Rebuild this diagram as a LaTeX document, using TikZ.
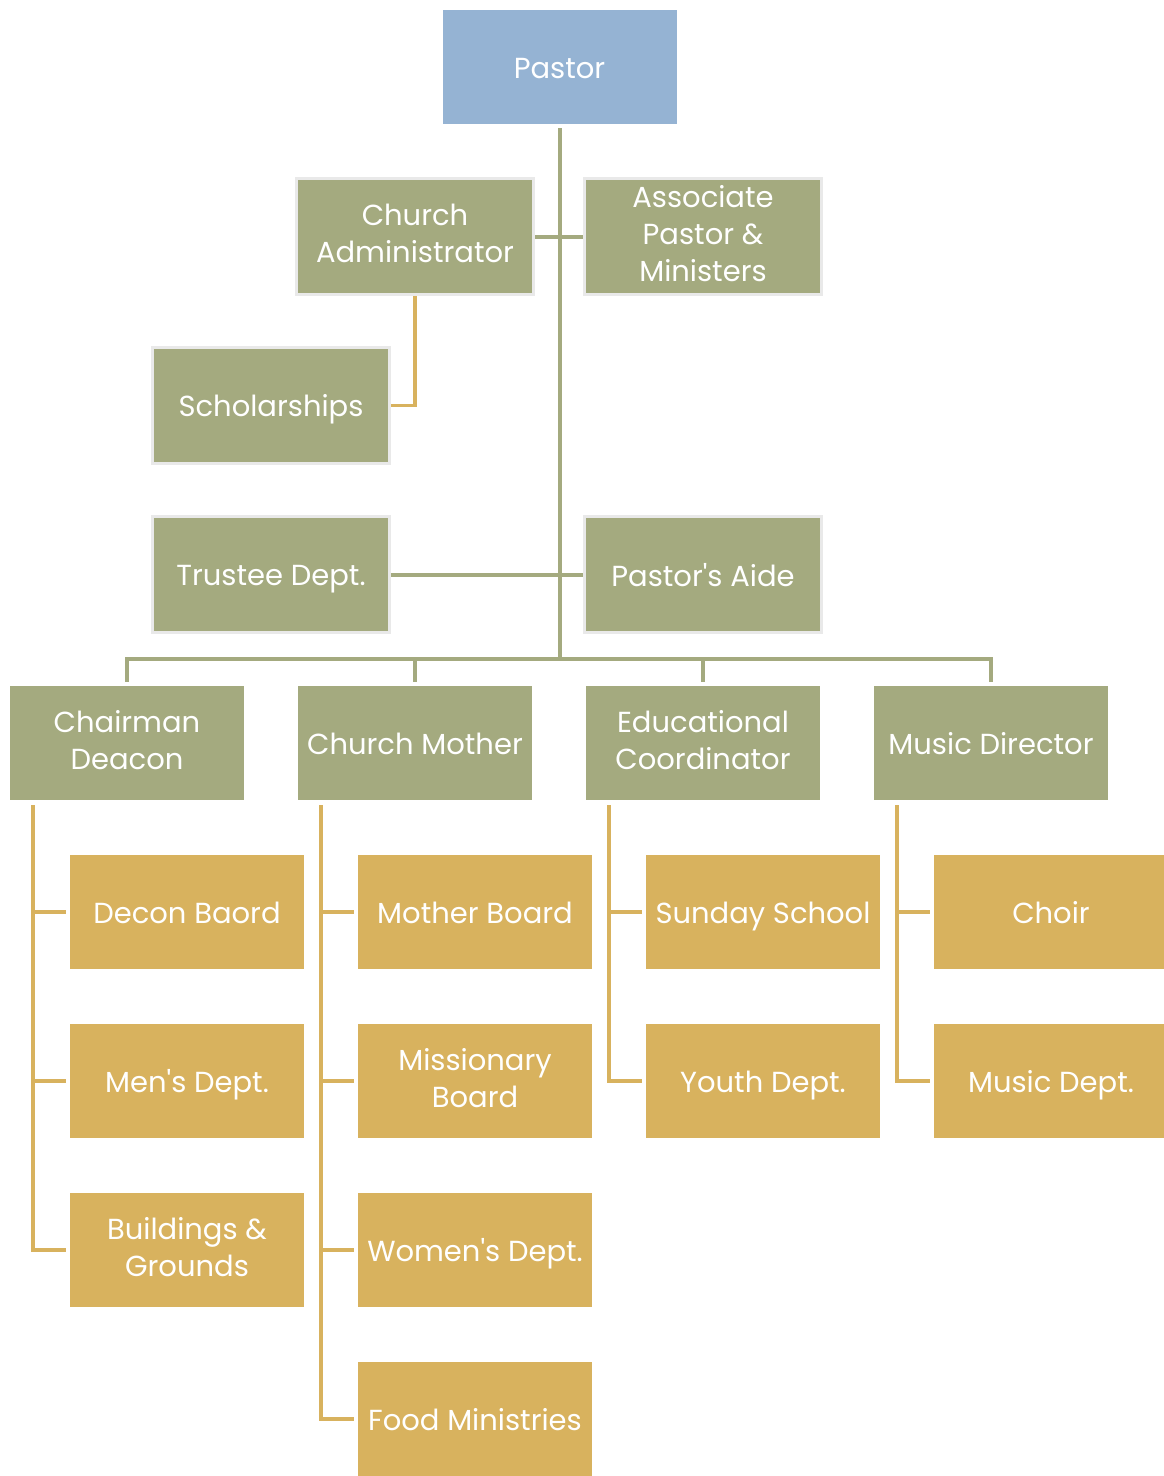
\documentclass[tikz,border=0pt]{standalone}
\usepackage{fontspec}
\setmainfont{Poppins}
\usetikzlibrary{positioning}
\definecolor{pblue}{HTML}{95B3D3}
\definecolor{pgreen}{HTML}{A4AA7F}
\definecolor{pgold}{HTML}{D8B25E}
\definecolor{pframe}{HTML}{E9E9E9}
\newcommand{\bstrut}{\rule[-7pt]{0pt}{37pt}}
\tikzset{
    box/.style = {rectangle, text=white, align=center, inner sep=1pt, outer sep=0pt,
                  minimum width=234pt, minimum height=114pt,
                  font=\fontsize{29}{37}\selectfont,
                  execute at begin node=\bstrut, execute at end node=\bstrut},
    mynodeb/.style = {box, fill=pblue},
    mynodeg/.style = {box, fill=pgreen},
    mynodef/.style = {box, fill=pgreen, draw=pframe, line width=3pt,
                      minimum width=237pt, minimum height=116pt, outer sep=1.5pt},
    mynodey/.style = {box, fill=pgold},
    edgeg/.style = {line width=4pt, draw=pgreen},
    edgey/.style = {line width=3.5pt, draw=pgold},
    drop/.style = {shorten >=4pt}
}
\newcommand{\apos}{\textquotesingle}
\begin{document}
\begin{tikzpicture}[x=1pt,y=-1pt]
\useasboundingbox (0,0) rectangle (1164,1476);
%
\node[mynodeb] at (559.5,67) (p) {Pastor};
\node[mynodef] at (415,236.5) (ca) {Church\\Administrator};
\node[mynodef] at (703,236.5) (ap) {Associate\\Pastor \&\\Ministers};
\node[mynodef] at (271,405.5) (sc) {Scholarships};
\node[mynodef] at (271,574.5) (td) {Trustee Dept.};
\node[mynodef] at (703,574.5) (pa) {Pastor\apos s Aide};
%
\node[mynodeg] at (127,743) (cd) {Chairman\\Deacon};
\node[mynodeg] at (415,743) (cm) {Church Mother};
\node[mynodeg] at (703,743) (ec) {Educational\\Coordinator};
\node[mynodeg] at (991,743) (mu) {Music Director};
%
\node[mynodey] at (187,912) (db) {Decon Baord};
\node[mynodey] at (187,1081) (md) {Men\apos s Dept.};
\node[mynodey] at (187,1250) (bg) {Buildings \&\\Grounds};
\node[mynodey] at (475,912) (mb) {Mother Board};
\node[mynodey] at (475,1081) (mi) {Missionary\\Board};
\node[mynodey] at (475,1250) (wd) {Women\apos s Dept.};
\node[mynodey] at (475,1419) (fm) {Food Ministries};
\node[mynodey] at (763,912) (ss) {Sunday School};
\node[mynodey] at (763,1081) (yd) {Youth Dept.};
\node[mynodey] at (1051,912) (ch) {Choir};
\node[mynodey] at (1051,1081) (mdp) {Music Dept.};
%
\coordinate (hub) at (559.5,659);
\coordinate (cdt) at (33,805);
\coordinate (cmt) at (321,805);
\coordinate (ect) at (609,805);
\coordinate (mut) at (897,805);
%
\draw[edgeg, shorten <=4pt] (p) -- (hub);
\draw[edgeg] (ca) -- (ap);
\draw[edgeg] (td) -- (pa);
\draw[edgeg, drop] (hub) -| (cd);
\draw[edgeg, drop] (hub) -| (cm);
\draw[edgeg, drop] (hub) -| (ec);
\draw[edgeg, drop] (hub) -| (mu);
\draw[edgey] (ca) |- (sc);
%
\draw[edgey, drop] (cdt) |- (db);
\draw[edgey, drop] (cdt) |- (md);
\draw[edgey, drop] (cdt) |- (bg);
\draw[edgey, drop] (cmt) |- (mb);
\draw[edgey, drop] (cmt) |- (mi);
\draw[edgey, drop] (cmt) |- (wd);
\draw[edgey, drop] (cmt) |- (fm);
\draw[edgey, drop] (ect) |- (ss);
\draw[edgey, drop] (ect) |- (yd);
\draw[edgey, drop] (mut) |- (ch);
\draw[edgey, drop] (mut) |- (mdp);
\end{tikzpicture}
\end{document}
